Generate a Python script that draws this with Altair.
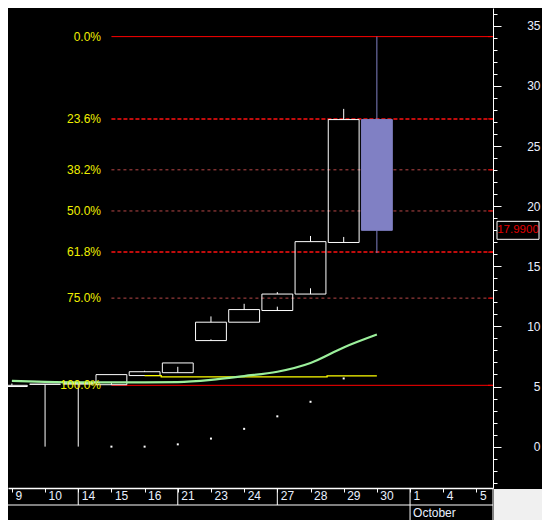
import altair as alt
import pandas as pd

# ---------------- data ----------------
dates = ["9", "10", "14", "15", "16", "21", "23", "24", "27", "28", "29", "30", "1", "4", "5"]
week_marks = [2, 5, 8]
month_label = "October"
month_start = 12

opens  = [5.00, 5.19, 5.22, 5.15, 5.91, 6.15, 8.82, 10.35, 11.32, 12.69, 16.98, 27.20]
highs  = [5.25, 5.19, 5.22, 5.99, 6.31, 6.96, 10.83, 11.88, 12.85, 17.52, 28.09, 34.10]
lows   = [5.00, 0.00, 0.00, 5.35, 5.91, 6.64, 8.92, 10.35, 11.64, 13.17, 17.44, 16.10]
closes = [5.10, 5.19, 5.22, 5.99, 6.23, 6.96, 10.35, 11.40, 12.69, 17.05, 27.20, 17.99]

ma_fast = [5.47, 5.39, 5.35, 5.35, 5.35, 5.37, 5.55, 5.87, 6.23, 6.96, 8.25, 9.32]
ma_slow_start = 4
ma_slow = [5.91, 5.81, 5.81, 5.81, 5.81, 5.81, 5.89, 5.89]
dot_start = 3
dot_vals = [0.0, 0.0, 0.19, 0.67, 1.48, 2.52, 3.73, 5.67]

fib_labels = ["0.0%", "23.6%", "38.2%", "50.0%", "61.8%", "75.0%", "100.0%"]
fib_ratios = [0.0, 0.236, 0.382, 0.5, 0.618, 0.75, 1.0]
swing_high = 34.10
swing_low = 5.10
fib_start = 3
last_price = 17.99

# ---------------- layout ----------------
W, H = 485, 480
RIGHT, BOTTOM = 49, 32
FONT = "Liberation Sans"
AXIS_TXT = "#e8f0ff"
BLUE = "#8080c4"

candles = pd.DataFrame({
    "i": list(range(len(opens))),
    "open": opens, "high": highs, "low": lows, "close": closes,
})
fast_df = pd.DataFrame({"i": list(range(len(ma_fast))), "v": ma_fast})
slow_df = pd.DataFrame({"i": [ma_slow_start + k for k in range(len(ma_slow))], "v": ma_slow})
dot_df = pd.DataFrame({"i": [dot_start + k for k in range(len(dot_vals))], "v": dot_vals})
fib_df = pd.DataFrame({"label": fib_labels, "ratio": fib_ratios,
                       "hi": [swing_high] * len(fib_ratios), "lo": [swing_low] * len(fib_ratios),
                       "start": [fib_start] * len(fib_ratios)})
price_df = pd.DataFrame({"p": [last_price], "txt": [f"{last_price:.4f}"]})
month_df = pd.DataFrame({"i": [month_start], "txt": [month_label]})
week_df = pd.DataFrame({"i": week_marks})
one = pd.DataFrame({"a": [0]})

xs = alt.Scale(domain=[-0.117, 14.5], nice=False, zero=False)
ys = alt.Scale(domain=[-3.44, 36.48], nice=False, zero=False)

label_expr = "[" + ",".join("'%s'" % d for d in dates) + "][datum.value]"

x_axis = alt.Axis(
    orient="bottom", values=list(range(len(dates))), labelExpr=label_expr,
    domainColor="white", domainWidth=1.5, tickColor="white", tickWidth=1, tickSize=4,
    labelAlign="left", labelBaseline="middle", labelOffset=3, labelPadding=3,
    labelColor=AXIS_TXT, labelFont=FONT, labelFontSize=12, labelOverlap=False,
    labelFlush=False, grid=False, title=None,
)
y_axis = alt.Axis(
    orient="right", values=list(range(-3, 37)),
    labelExpr="datum.value % 5 === 0 ? datum.label : ''",
    domainColor="white", domainWidth=1, tickColor="white", tickWidth=1,
    tickSize={"condition": {"test": "datum.value % 5 === 0", "value": 8}, "value": 4},
    labelAlign="right", labelPadding=39, labelColor=AXIS_TXT, labelFont=FONT,
    labelFontSize=12, labelOverlap=False, labelFlush=False, grid=False, title=None,
)


def X(field, **kw):
    return alt.X(field, type="quantitative", scale=xs, axis=x_axis, title=None, **kw)


def Y(field, **kw):
    return alt.Y(field, type="quantitative", scale=ys, axis=y_axis, title=None, **kw)


# corner and frame pieces
corner = alt.Chart(one).mark_rect(color="#f0f0f0").encode(
    x=alt.value(W + 1), x2=alt.value(W + RIGHT), y=alt.value(H + 1), y2=alt.value(H + BOTTOM))
axis_ext = alt.Chart(one).mark_rule(color="white", strokeWidth=1).encode(
    x=alt.value(W), y=alt.value(H), y2=alt.value(H + BOTTOM))
date_line = alt.Chart(one).mark_rule(color="white", strokeWidth=1).encode(
    x=alt.value(0), x2=alt.value(W), y=alt.value(H + 17))
week_sep = alt.Chart(week_df).mark_rule(color="white", strokeWidth=1).encode(
    x=X("i"), y=alt.value(H), y2=alt.value(H + 17))
month_sep = alt.Chart(month_df).mark_rule(color="white", strokeWidth=1).encode(
    x=X("i"), y=alt.value(H), y2=alt.value(H + BOTTOM))
month_txt = alt.Chart(month_df).mark_text(
    align="left", baseline="middle", dx=3, font=FONT, fontSize=12, color=AXIS_TXT).encode(
    x=X("i"), y=alt.value(H + 25), text="txt:N")

# fibonacci
fib_base = alt.Chart(fib_df).transform_calculate(level="datum.hi - datum.ratio * (datum.hi - datum.lo)")
fib_solid = fib_base.transform_filter("datum.ratio == 0 || datum.ratio == 1").mark_rule(
    color="#ff0000", strokeWidth=1).encode(x=X("start"), x2=alt.value(W), y=Y("level"))
fib_strong = fib_base.transform_filter("datum.ratio == 0.236 || datum.ratio == 0.618").mark_rule(
    color="#ff1010", strokeWidth=1.5, strokeDash=[4, 2]).encode(x=X("start"), x2=alt.value(W), y=Y("level"))
fib_weak = fib_base.transform_filter("datum.ratio == 0.382 || datum.ratio == 0.5 || datum.ratio == 0.75").mark_rule(
    color="#b84848", strokeWidth=1, strokeDash=[3, 3]).encode(x=X("start"), x2=alt.value(W), y=Y("level"))
fib_ticks = fib_base.mark_rule(color="#ff0000", strokeWidth=1).encode(
    x=alt.value(W - 5), x2=alt.value(W), y=Y("level"))
fib_text = fib_base.mark_text(align="right", baseline="middle", font=FONT, fontSize=12,
                              color="#f0f000").encode(x=alt.value(93), y=Y("level"), text="label:N")

# candles
cbase = alt.Chart(candles).transform_calculate(
    x0="datum.i - 0.465", x1="datum.i + 0.465",
    btop="max(datum.open, datum.close)", bbot="min(datum.open, datum.close)")
down = "datum.close < datum.open"
bodies = cbase.mark_rect(strokeWidth=1).encode(
    x=X("x0"), x2="x1:Q", y=Y("btop"), y2="bbot:Q",
    fill=alt.condition(down, alt.value(BLUE), alt.value("transparent")),
    stroke=alt.condition(down, alt.value(BLUE), alt.value("white")))
up_wick = cbase.mark_rule(strokeWidth=1).encode(
    x=X("i"), y=Y("high"), y2="btop:Q",
    color=alt.condition(down, alt.value(BLUE), alt.value("white")))
low_wick = cbase.mark_rule(strokeWidth=1).encode(
    x=X("i"), y=Y("low"), y2="bbot:Q",
    color=alt.condition(down, alt.value(BLUE), alt.value("white")))

# indicators
slow_line = alt.Chart(slow_df).mark_line(color="#ffff00", strokeWidth=1.3, interpolate="step").encode(
    x=X("i"), y=Y("v"))
fast_line = alt.Chart(fast_df).mark_line(color="#9cf09c", strokeWidth=2.2, interpolate="monotone").encode(
    x=X("i"), y=Y("v"))
dots = alt.Chart(dot_df).mark_square(size=4, color="white", opacity=1).encode(x=X("i"), y=Y("v"))

# price box
price_box = alt.Chart(price_df).mark_rect(fill="black", stroke="white", strokeWidth=1,
                                          yOffset=-9, y2Offset=9).encode(
    x=alt.value(W + 4), x2=alt.value(W + 46), y=Y("p"), y2="p:Q")
price_txt = alt.Chart(price_df).mark_text(align="center", baseline="middle", font=FONT,
                                          fontSize=11.5, color="#e00000").encode(
    x=alt.value(W + 25), y=Y("p"), text="txt:N")

chart = alt.layer(
    corner, fib_solid, fib_strong, fib_weak, fib_ticks,
    bodies, low_wick, up_wick, slow_line, fast_line, dots, fib_text,
    price_box, price_txt, axis_ext, date_line, week_sep, month_sep, month_txt,
).properties(
    width=W, height=H, background="black",
    padding={"left": 0, "top": 0, "right": RIGHT, "bottom": BOTTOM},
    autosize=alt.AutoSizeParams(type="none"),
).configure_view(stroke=None)

chart.save("out.html", embed_options={"renderer": "svg", "actions": False})
